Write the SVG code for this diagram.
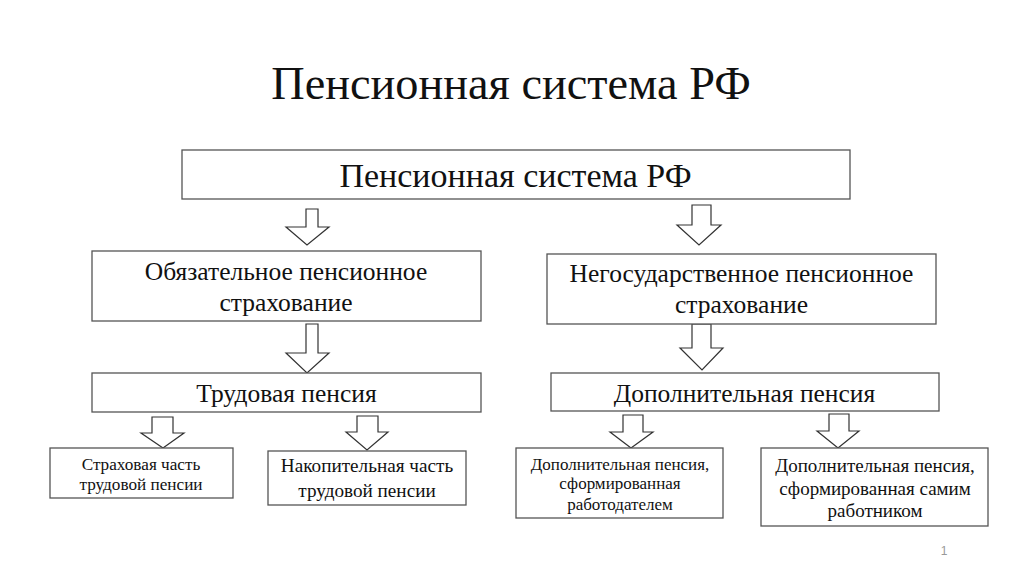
<svg xmlns="http://www.w3.org/2000/svg" width="1024" height="574" viewBox="0 0 1024 574">
<style>
.box{fill:#fff;stroke:#555;stroke-width:1.3}
.arr{fill:#fff;stroke:#333;stroke-width:1.2;stroke-linejoin:miter}
text{font-family:"Liberation Serif","Times New Roman",serif;fill:#111;text-anchor:middle}
</style>
<rect width="1024" height="574" fill="#fff"/>
<text id="title" x="511" y="99" font-size="46.3">Пенсионная система РФ</text>

<g id="connectors">
<path class="arr" d="M306,209 H318 V227 H329 L307,245 L286,227 H306 Z"/>
<path class="arr" d="M692,205 H711 V225 H721 L699,245 L677,225 H692 Z"/>
<path class="arr" d="M306,324 H318 V353 H329 L307,373 L286,353 H306 Z"/>
<path class="arr" d="M692,324 H711 V348 H723 L702,370 L680,348 H692 Z"/>
<path class="arr" d="M152,417 H173 V433 H184 L163,448 L141,433 H152 Z"/>
<path class="arr" d="M357,416 H378 V432 H388 L367,450 L346,432 H357 Z"/>
<path class="arr" d="M623,415 H643 V432 H653 L631,448 L610,432 H623 Z"/>
<path class="arr" d="M829,414 H849 V431 H859 L838,448 L817,431 H829 Z"/>
</g>

<g id="root">
<rect class="box" x="182" y="150" width="668" height="49"/>
<text x="515.5" y="187" font-size="34">Пенсионная система РФ</text>
</g>

<g id="obyaz">
<rect class="box" x="92" y="251" width="389" height="70"/>
<text x="286" y="280" font-size="25.5">Обязательное пенсионное</text>
<text x="286" y="311" font-size="25.5">страхование</text>
</g>

<g id="negos">
<rect class="box" x="547" y="254" width="389" height="70"/>
<text x="741.5" y="282" font-size="25.5">Негосударственное пенсионное</text>
<text x="741.5" y="313" font-size="25.5">страхование</text>
</g>

<g id="trud">
<rect class="box" x="92" y="373" width="389" height="39"/>
<text x="286.5" y="402" font-size="25.5">Трудовая пенсия</text>
</g>

<g id="dop">
<rect class="box" x="551" y="373" width="388" height="38"/>
<text x="744.5" y="402" font-size="25.5">Дополнительная пенсия</text>
</g>

<g id="strah">
<rect class="box" x="50" y="448" width="183" height="50"/>
<text x="141" y="470" font-size="17.2">Страховая часть</text>
<text x="141" y="490" font-size="17.2">трудовой пенсии</text>
</g>

<g id="nakop">
<rect class="box" x="268" y="451" width="198" height="54"/>
<text x="367" y="472" font-size="19.2">Накопительная часть</text>
<text x="367" y="497" font-size="19.2">трудовой пенсии</text>
</g>

<g id="rabotodatel">
<rect class="box" x="516" y="448" width="207" height="70"/>
<text x="620" y="470" font-size="17">Дополнительная пенсия,</text>
<text x="620" y="489" font-size="17">сформированная</text>
<text x="620" y="510" font-size="17">работодателем</text>
</g>

<g id="rabotnik">
<rect class="box" x="761" y="448" width="227" height="78"/>
<text x="875" y="472" font-size="19">Дополнительная пенсия,</text>
<text x="875" y="495" font-size="19">сформированная самим</text>
<text x="875" y="517" font-size="19">работником</text>
</g>

<text id="pagenum" x="944" y="555" font-size="12" style="fill:#999;font-family:'Liberation Sans',sans-serif">1</text>
</svg>
